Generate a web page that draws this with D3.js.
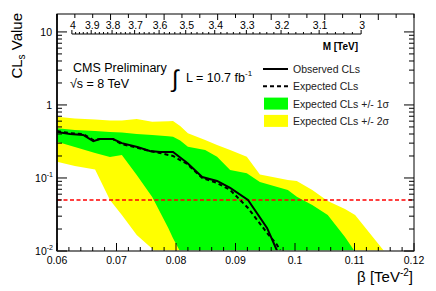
<!DOCTYPE html>
<html>
<head>
<meta charset="utf-8">
<script src="https://cdn.jsdelivr.net/npm/d3@7"></script>
<style>
  body { margin: 0; background: #fff; }
  text { font-family: "Liberation Sans", Arial, sans-serif; }
</style>
</head>
<body>
<script>
// Data
const betaBand = [0.0600, 0.0630, 0.0664, 0.0689, 0.0709, 0.0734, 0.0760, 0.0787, 0.0795, 0.0807,
  0.0820, 0.0849, 0.0869, 0.0891, 0.0919, 0.0941, 0.0988, 0.1003, 0.1029, 0.1055, 0.1084, 0.1101, 0.1151, 0.1176];
const up2 = [0.691, 0.653, 0.633, 0.613, 0.613, 0.643, 0.590, 0.598, 0.604, 0.516,
  0.410, 0.332, 0.283, 0.242, 0.196, 0.112, 0.094, 0.091, 0.0685, 0.0484, 0.0376, 0.0311, 0.0097, 0.005];
const up1 = [0.480, 0.454, 0.440, 0.427, 0.420, 0.401, 0.388, 0.373, 0.368, 0.326,
  0.268, 0.242, 0.196, 0.129, 0.116, 0.088, 0.0685, 0.0554, 0.0427, 0.0311, 0.0156, 0.0097, 0.003, 0.002];
const lo1 = [0.314, 0.266, 0.220, 0.194, 0.207, 0.110, 0.0549, 0.0207, 0.0150, 0.0098,
  0.006, 0.003, 0.002, 0.002, 0.002, 0.002, 0.002, 0.002, 0.002, 0.002, 0.002, 0.002, 0.002, 0.002];
const lo2 = [0.167, 0.146, 0.131, 0.050, 0.0311, 0.0166, 0.0107, 0.006, 0.005, 0.004,
  0.003, 0.002, 0.002, 0.002, 0.002, 0.002, 0.002, 0.002, 0.002, 0.002, 0.002, 0.002, 0.002, 0.002];

const betaLine = [0.0600, 0.0622, 0.0644, 0.0661, 0.0672, 0.0694, 0.0709, 0.0735, 0.0756, 0.0773,
  0.0795, 0.0819, 0.0844, 0.0869, 0.0891, 0.0921, 0.0953, 0.0970, 0.0985];
const observed = [0.427, 0.400, 0.388, 0.320, 0.342, 0.342, 0.300, 0.266, 0.234, 0.227,
  0.227, 0.160, 0.103, 0.091, 0.073, 0.050, 0.0207, 0.0100, 0.005];
const expected = [0.440, 0.410, 0.400, 0.330, 0.342, 0.342, 0.290, 0.260, 0.234, 0.220,
  0.200, 0.155, 0.100, 0.0855, 0.0685, 0.0388, 0.0177, 0.0121, 0.007];

const clsLimit = 0.05;
const betaTicks = [0.06, 0.07, 0.08, 0.09, 0.1, 0.11, 0.12];
const massTicks = [4, 3.9, 3.8, 3.7, 3.6, 3.5, 3.4, 3.3, 3.2, 3.1, 3];
const clsTicks = [0.01, 0.1, 1, 10];

const W = 436, H = 291;
const svg = d3.select("body").append("svg").attr("width", W).attr("height", H);

const x = d3.scaleLinear().domain([0.06, 0.12]).range([57, 414]);
const y = d3.scaleLog().domain([0.01, 17.6]).range([251, 14]);
const [x0, x1] = x.range();
const [y0, y1] = y.range();

svg.append("defs").append("clipPath").attr("id", "plot")
  .append("rect").attr("x", x0).attr("y", y1).attr("width", x1 - x0).attr("height", y0 - y1);

const plot = svg.append("g").attr("clip-path", "url(#plot)");

// Bands
const band = betaBand.map((b, i) => ({ b, u2: up2[i], u1: up1[i], l1: lo1[i], l2: lo2[i] }));
plot.append("path").datum(band).attr("fill", "#ffff00")
  .attr("d", d3.area().x(d => x(d.b)).y0(d => y(d.l2)).y1(d => y(d.u2)));
plot.append("path").datum(band).attr("fill", "#00ff00")
  .attr("d", d3.area().x(d => x(d.b)).y0(d => y(d.l1)).y1(d => y(d.u1)));

// 95% line
plot.append("line").attr("x1", x0).attr("x2", x1).attr("y1", y(clsLimit)).attr("y2", y(clsLimit))
  .attr("stroke", "#ff0000").attr("stroke-width", 1.5).attr("stroke-dasharray", "4,2.5");

// Curves
const line = d3.line().x(d => x(d[0])).y(d => y(d[1]));
plot.append("path").datum(betaLine.map((b, i) => [b, expected[i]]))
  .attr("fill", "none").attr("stroke", "#000").attr("stroke-width", 2)
  .attr("stroke-dasharray", "4,3").attr("d", line);
plot.append("path").datum(betaLine.map((b, i) => [b, observed[i]]))
  .attr("fill", "none").attr("stroke", "#000").attr("stroke-width", 2).attr("d", line);

// Frame
const axes = svg.append("g").attr("stroke", "#000").attr("fill", "none");
axes.append("rect").attr("x", x0).attr("y", y1).attr("width", x1 - x0).attr("height", y0 - y1)
  .attr("stroke-width", 1);
axes.append("line").attr("x1", x0).attr("x2", x0).attr("y1", y1).attr("y2", y0).attr("stroke-width", 1.6);
axes.append("line").attr("x1", x0).attr("x2", x1).attr("y1", y0).attr("y2", y0)
  .attr("stroke", "#777").attr("stroke-width", 1.6);

// Bottom ticks
d3.range(0, 31).map(i => 0.06 + i * 0.002).forEach((b, i) => {
  const len = i % 5 === 0 ? 8 : 4;
  axes.append("line").attr("x1", x(b)).attr("x2", x(b)).attr("y1", y0).attr("y2", y0 - len);
});
// Top frame ticks
d3.range(0, 21).map(i => 0.06 + i * 0.003).forEach((b, i) => {
  const len = i % 3 === 0 ? 6 : 4;
  axes.append("line").attr("x1", x(b)).attr("x2", x(b)).attr("y1", y1).attr("y2", y1 + len);
});
// Log ticks left and right
const logTicks = [];
[-2, -1, 0, 1].forEach(e => d3.range(1, 10).forEach(k => {
  const v = k * Math.pow(10, e);
  if (v >= 0.01 && v <= 17.6) logTicks.push({ v, major: k === 1 });
}));
logTicks.forEach(t => {
  const len = t.major ? 10 : 5;
  axes.append("line").attr("x1", x0).attr("x2", x0 + len).attr("y1", y(t.v)).attr("y2", y(t.v));
  axes.append("line").attr("x1", x1).attr("x2", x1 - len).attr("y1", y(t.v)).attr("y2", y(t.v));
});

// Bottom labels
svg.append("g").selectAll("text").data(betaTicks).join("text")
  .attr("x", d => x(d)).attr("y", 264).attr("text-anchor", "middle")
  .attr("font-size", 10.5).text(d => d);

// Left labels
const yl = svg.append("g").attr("font-size", 10.5).attr("text-anchor", "end");
clsTicks.forEach(v => {
  const t = yl.append("text").attr("x", v >= 1 ? 52 : 53).attr("y", y(v) + 4);
  if (v >= 1) t.text(v);
  else {
    t.append("tspan").text("10");
    t.append("tspan").attr("font-size", 7).attr("dy", -5).text(Math.round(Math.log10(v)));
  }
});

// Top mass axis
const mx = m => x(1 / (m * m));
const mAxisY = 34;
axes.append("line").attr("x1", mx(4)).attr("x2", mx(3)).attr("y1", mAxisY).attr("y2", mAxisY);
d3.range(300, 401, 2).map(v => v / 100).forEach(m => {
  const major = Math.abs(m * 10 - Math.round(m * 10)) < 1e-6;
  axes.append("line").attr("x1", mx(m)).attr("x2", mx(m))
    .attr("y1", mAxisY).attr("y2", mAxisY - (major ? 4 : 2));
});
svg.append("g").selectAll("text").data(massTicks).join("text")
  .attr("x", d => mx(d) + 1).attr("y", 29).attr("text-anchor", "middle")
  .attr("font-size", 10.5).text(d => d);
svg.append("text").attr("x", 358).attr("y", 50).attr("text-anchor", "end")
  .attr("font-size", 10).attr("font-weight", "bold").text("M [TeV]");

// Axis titles
const yt = svg.append("text").attr("transform", "translate(22,13) rotate(-90)")
  .attr("text-anchor", "end").attr("font-size", 15);
yt.append("tspan").text("CL");
yt.append("tspan").attr("font-size", 10).attr("dy", 3).text("s");
yt.append("tspan").attr("dy", -3).text(" Value");

const xt = svg.append("text").attr("x", 413).attr("y", 282).attr("text-anchor", "end").attr("font-size", 15);
xt.append("tspan").text("β [TeV");
xt.append("tspan").attr("font-size", 10).attr("dy", -6).text("-2");
xt.append("tspan").attr("dy", 6).text("]");

// Labels
svg.append("text").attr("x", 73).attr("y", 72).attr("font-size", 12.5).text("CMS Preliminary");
svg.append("text").attr("x", 70).attr("y", 88).attr("font-size", 12.5).text("√s = 8 TeV");
svg.append("text").attr("x", 172).attr("y", 87).attr("font-size", 24).attr("font-family", "DejaVu Sans").text("∫");
const lum = svg.append("text").attr("x", 186).attr("y", 82).attr("font-size", 12.5);
lum.append("tspan").text("L = 10.7 fb");
lum.append("tspan").attr("font-size", 8).attr("dy", -6).text("-1");

// Legend
const legend = [
  { label: "Observed CLs", type: "line" },
  { label: "Expected CLs", type: "dash" },
  { label: "Expected CLs +/- 1σ", type: "box", color: "#00ff00" },
  { label: "Expected CLs +/- 2σ", type: "box", color: "#ffff00" }
];
const lg = svg.append("g");
legend.forEach((d, i) => {
  const cy = 69 + i * 17.3;
  if (d.type === "box") {
    lg.append("rect").attr("x", 264).attr("y", cy - 6).attr("width", 24).attr("height", 12).attr("fill", d.color);
  } else {
    lg.append("line").attr("x1", 263).attr("x2", 288).attr("y1", cy).attr("y2", cy)
      .attr("stroke", "#000").attr("stroke-width", 2)
      .attr("stroke-dasharray", d.type === "dash" ? "4,3" : null);
  }
  lg.append("text").attr("x", 293).attr("y", cy + 4).attr("font-size", 10.5).attr("fill", "#222").text(d.label);
});
</script>
</body>
</html>
